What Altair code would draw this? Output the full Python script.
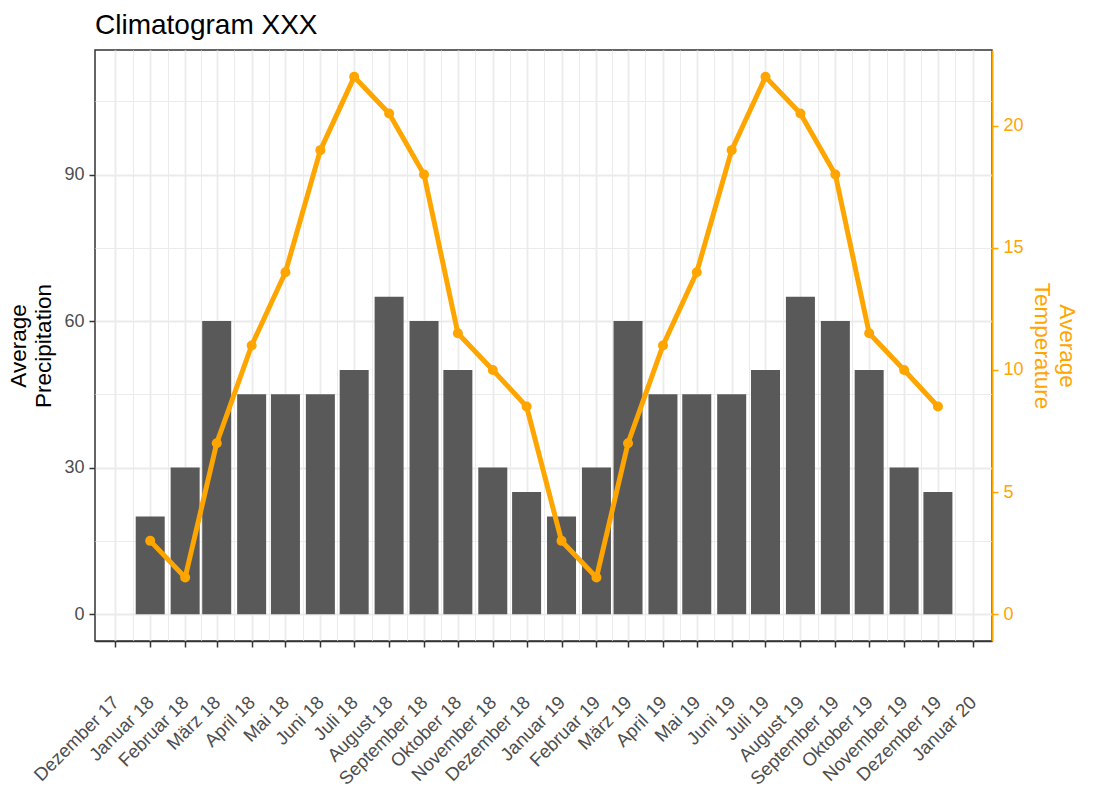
import json
import altair as alt
import pandas as pd

# ---- data -------------------------------------------------------------
months = ["2018-01-01", "2018-02-01", "2018-03-01", "2018-04-01", "2018-05-01", "2018-06-01",
          "2018-07-01", "2018-08-01", "2018-09-01", "2018-10-01", "2018-11-01", "2018-12-01",
          "2019-01-01", "2019-02-01", "2019-03-01", "2019-04-01", "2019-05-01", "2019-06-01",
          "2019-07-01", "2019-08-01", "2019-09-01", "2019-10-01", "2019-11-01", "2019-12-01"]
precipitation = [20, 30, 60, 45, 45, 45, 50, 65, 60, 50, 30, 25,
                 20, 30, 60, 45, 45, 45, 50, 65, 60, 50, 30, 25]
temperature = [3, 1.5, 7, 11, 14, 19, 22, 20.5, 18, 11.5, 10, 8.5,
               3, 1.5, 7, 11, 14, 19, 22, 20.5, 18, 11.5, 10, 8.5]

tick_dates = ["2017-12-01", "2018-01-01", "2018-02-01", "2018-03-01", "2018-04-01", "2018-05-01",
              "2018-06-01", "2018-07-01", "2018-08-01", "2018-09-01", "2018-10-01", "2018-11-01",
              "2018-12-01", "2019-01-01", "2019-02-01", "2019-03-01", "2019-04-01", "2019-05-01",
              "2019-06-01", "2019-07-01", "2019-08-01", "2019-09-01", "2019-10-01", "2019-11-01",
              "2019-12-01", "2020-01-01"]
tick_labels = ["Dezember 17", "Januar 18", "Februar 18", "März 18", "April 18", "Mai 18",
               "Juni 18", "Juli 18", "August 18", "September 18", "Oktober 18", "November 18",
               "Dezember 18", "Januar 19", "Februar 19", "März 19", "April 19", "Mai 19",
               "Juni 19", "Juli 19", "August 19", "September 19", "Oktober 19", "November 19",
               "Dezember 19", "Januar 20"]
x_domain = ["2017-11-13", "2020-01-18"]

precip_ticks = [0, 30, 60, 90]
precip_minor = [15, 45, 75, 105]
precip_domain = [-5.5, 115.5]
temp_ticks = [0, 5, 10, 15, 20]
temp_domain = [-1.1, 23.1]

# ---- helpers ------------------------------------------------------------
def ms(d):
    return int(pd.Timestamp(d, tz="UTC").value // 10**6)

tick_ms = [ms(d) for d in tick_dates]
minor_ms = [(a + b) // 2 for a, b in zip(tick_ms[:-1], tick_ms[1:])]
label_expr = json.dumps(tick_labels, ensure_ascii=False) + \
    "[(utcyear(datum.value) - 2017) * 12 + utcmonth(datum.value) - 11]"

df = pd.DataFrame({"Monat": months, "Niederschlag": precipitation, "Temperatur": temperature})

FONT = "Liberation Sans"
GRID = "#EBEBEB"
DARK = "#333333"
ORANGE = "#FFA500"

x_scale = alt.Scale(type="utc", domain=[ms(d) for d in x_domain], padding=0, nice=False)
p_scale = alt.Scale(domain=precip_domain, nice=False, zero=False, padding=0)
t_scale = alt.Scale(domain=temp_domain, nice=False, zero=False, padding=0)

# minor grid layer
grid = alt.Chart(df).mark_bar(opacity=0).encode(
    x=alt.X("Monat:T", scale=x_scale,
            axis=alt.Axis(orient="bottom", values=minor_ms, grid=True, gridColor=GRID, gridWidth=1,
                          labels=False, ticks=False, domain=False, title=None)),
    y=alt.Y("Niederschlag:Q", scale=p_scale,
            axis=alt.Axis(orient="left", values=precip_minor, grid=True, gridColor=GRID, gridWidth=1,
                          labels=False, ticks=False, domain=False, title=None)),
)

bars = alt.Chart(df).mark_bar(size=29, color="#595959").encode(
    x=alt.X("Monat:T", scale=x_scale,
            axis=alt.Axis(orient="bottom", values=tick_ms, labelExpr=label_expr, title=None,
                          grid=True, gridColor=GRID, gridWidth=1.8,
                          ticks=True, tickColor=DARK, tickSize=6, tickWidth=1.5,
                          domain=True, domainColor=DARK, domainWidth=1.5,
                          labelAngle=315, labelAlign="right", labelBaseline="middle",
                          labelPadding=52, labelFont=FONT, labelFontSize=18.5, labelLimit=300,
                          labelColor="#4D4D4D", labelOverlap=False, labelFlush=False)),
    y=alt.Y("Niederschlag:Q", scale=p_scale,
            axis=alt.Axis(orient="left", values=precip_ticks, title=["Average", "Precipitation"],
                          grid=True, gridColor=GRID, gridWidth=1.8,
                          ticks=True, tickColor=DARK, tickSize=6, tickWidth=1.5,
                          domain=False,
                          labelFont=FONT, labelFontSize=18, labelColor="#4D4D4D", labelPadding=5,
                          titleFont=FONT, titleFontSize=22.5, titleFontWeight="normal",
                          titleColor="black", titleLineHeight=25, titlePadding=8)),
    y2=alt.datum(0),
)

line = alt.Chart(df).mark_line(color=ORANGE, strokeWidth=5).encode(
    x=alt.X("Monat:T", scale=x_scale, axis=None),
    y=alt.Y("Temperatur:Q", scale=t_scale,
            axis=alt.Axis(orient="right", values=temp_ticks, title=["Average", "Temperature"],
                          grid=False, ticks=True, tickColor=ORANGE, tickSize=6, tickWidth=1.5,
                          domain=True, domainColor=ORANGE, domainWidth=2,
                          labelFont=FONT, labelFontSize=18, labelColor=ORANGE, labelPadding=5,
                          titleFont=FONT, titleFontSize=22.5, titleFontWeight="normal",
                          titleColor=ORANGE, titleLineHeight=25, titlePadding=6)),
)

points = alt.Chart(df).mark_point(filled=True, size=100, color=ORANGE, opacity=1).encode(
    x=alt.X("Monat:T", scale=x_scale, axis=None),
    y=alt.Y("Temperatur:Q", scale=t_scale, axis=None),
)

chart = alt.layer(grid, bars, line, points).resolve_scale(
    y="independent"
).resolve_axis(
    x="independent", y="independent"
).properties(
    width=897,
    height=591,
    padding={"left": 87, "top": 42, "right": 95, "bottom": 151},
    autosize=alt.AutoSizeParams(type="none"),
    title=alt.TitleParams("Climatogram XXX", anchor="start", frame="group", fontSize=28,
                          font=FONT, fontWeight="normal", color="black", offset=10),
).configure_view(
    stroke=DARK, strokeWidth=1.5
)

chart.save("out.html", embed_options={"renderer": "svg", "actions": False})
